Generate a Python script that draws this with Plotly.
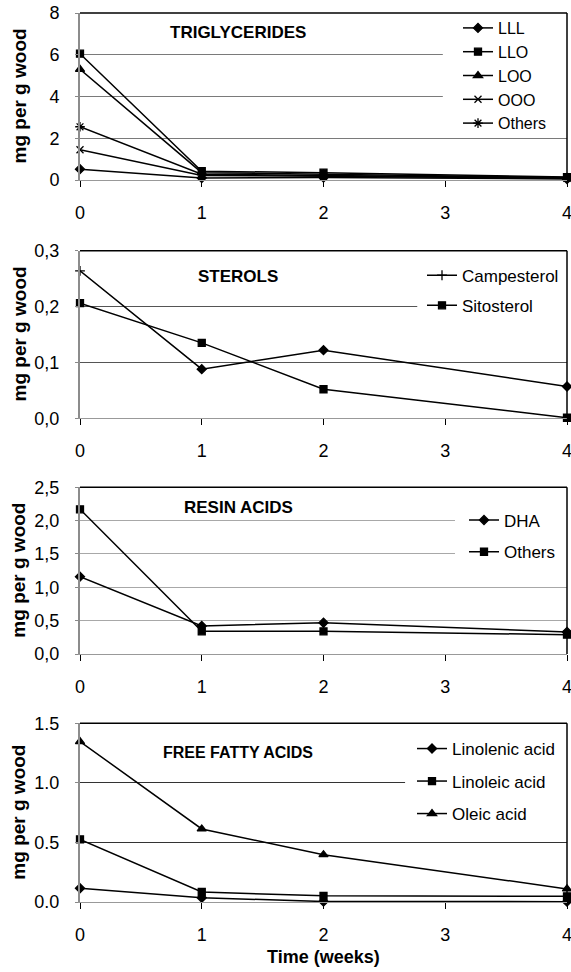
import plotly.graph_objects as go

# ---------------- data ----------------
weeks = [0, 1, 2, 4]
x_ticks = [0, 1, 2, 3, 4]

# Triglycerides (mg per g wood)
tg_names = ["LLL", "LLO", "LOO", "OOO", "Others"]
tg_LLL = [0.52, 0.10, 0.12, 0.05]
tg_LLO = [6.05, 0.42, 0.35, 0.14]
tg_LOO = [5.30, 0.35, 0.28, 0.12]
tg_OOO = [1.45, 0.22, 0.18, 0.08]
tg_Others = [2.55, 0.28, 0.22, 0.10]

# Sterols
st_names = ["Campesterol", "Sitosterol"]
st_campesterol = [0.264, 0.088, 0.122, 0.057]
st_sitosterol = [0.206, 0.135, 0.052, 0.001]

# Resin acids
ra_names = ["DHA", "Others"]
ra_DHA = [1.16, 0.42, 0.47, 0.33]
ra_Others = [2.17, 0.34, 0.34, 0.29]

# Free fatty acids
ff_names = ["Linolenic acid", "Linoleic acid", "Oleic acid"]
ff_linolenic = [0.115, 0.036, 0.004, 0.003]
ff_linoleic = [0.526, 0.084, 0.052, 0.048]
ff_oleic = [1.347, 0.613, 0.397, 0.110]

panel_titles = ["TRIGLYCERIDES", "STEROLS", "RESIN ACIDS", "FREE FATTY ACIDS"]
y_title = "mg per g wood"
x_title = "Time (weeks)"

tg_ticks = [0, 2, 4, 6, 8]
tg_ticktext = ["0", "2", "4", "6", "8"]
st_ticks = [0, 0.1, 0.2, 0.3]
st_ticktext = ["0,0", "0,1", "0,2", "0,3"]
ra_ticks = [0, 0.5, 1.0, 1.5, 2.0, 2.5]
ra_ticktext = ["0,0", "0,5", "1,0", "1,5", "2,0", "2,5"]
ff_ticks = [0, 0.5, 1.0, 1.5]
ff_ticktext = ["0.0", "0.5", "1.0", "1.5"]

# ---------------- figure ----------------
FONT = "Arial, Liberation Sans, sans-serif"
fig = go.Figure()

def add(name, y, panel, symbol, size, legend, group):
    fig.add_trace(go.Scatter(
        x=weeks, y=y, name=name, mode="lines+markers",
        xaxis="x" if panel == 1 else f"x{panel}",
        yaxis="y" if panel == 1 else f"y{panel}",
        line=dict(color="black", width=1.5),
        marker=dict(symbol=symbol, size=size, color="black",
                    line=dict(color="black", width=1.3)),
        legend=legend, legendgroup=group, cliponaxis=False,
    ))

tg_series = [tg_LLL, tg_LLO, tg_LOO, tg_OOO, tg_Others]
tg_symbols = ["diamond", "square", "triangle-up", "x-thin", "asterisk"]
tg_sizes = [7, 7, 8, 7, 8]
for n, s, sym, sz in zip(tg_names, tg_series, tg_symbols, tg_sizes):
    add(n, s, 1, sym, sz, "legend", None)

add(st_names[0], st_campesterol, 2, ["cross-thin", "diamond", "diamond", "diamond"], 7, "legend2", "s1")
add(st_names[1], st_sitosterol, 2, "square", 7, "legend2", "s2")

add(ra_names[0], ra_DHA, 3, "diamond", 7, "legend3", "r1")
add(ra_names[1], ra_Others, 3, "square", 7, "legend3", "r2")

add(ff_names[0], ff_linolenic, 4, "diamond", 7, "legend4", "f1")
add(ff_names[1], ff_linoleic, 4, "square", 7, "legend4", "f2")
add(ff_names[2], ff_oleic, 4, "triangle-up", 8, "legend4", "f3")

# positions in page pixels (the page body margin is removed below)
W, HT = 571, 972
L, R_EDGE = 80, 567          # plot area left/right
T, B = 13, 902               # plot area top/bottom
PW = R_EDGE - L
H = B - T

def px(p):
    return (p - L) / PW

def py(p):
    return (B - p) / H

domains = [
    [py(180), py(13)],
    [py(418.3), py(250.7)],
    [py(654), py(487.3)],
    [py(902), py(723.3)],
]
yranges = [[0, 8], [0, 0.3], [0, 2.5], [0, 1.5]]
yticks = [(tg_ticks, tg_ticktext), (st_ticks, st_ticktext),
          (ra_ticks, ra_ticktext), (ff_ticks, ff_ticktext)]
gridcolors = ["#7a7a7a", "#555555", "#a8a8a8", "#333333"]

layout = dict(
    width=W, height=HT,
    margin=dict(l=L, r=W - R_EDGE, t=T, b=HT - B, autoexpand=False),
    paper_bgcolor="white", plot_bgcolor="white",
    font=dict(family=FONT, color="black"),
    showlegend=True,
)

for i in range(4):
    k = "" if i == 0 else str(i + 1)
    layout[f"xaxis{k}"] = dict(
        domain=[0, 1], anchor=f"y{k}", range=[0, 4],
        tickmode="array", tickvals=x_ticks, ticktext=[str(t) for t in x_ticks],
        ticks="outside", ticklen=6, tickcolor="black", tickwidth=1,
        ticklabelstandoff=10, ticklabeloverflow="allow",
        tickfont=dict(size=18, family=FONT, color="black"),
        showgrid=False, zeroline=False,
        showline=True, linecolor="#999999", linewidth=1,
    )
    tv, tt = yticks[i]
    layout[f"yaxis{k}"] = dict(
        domain=domains[i], anchor=f"x{k}", range=yranges[i],
        tickmode="array", tickvals=tv, ticktext=tt,
        ticks="outside", ticklen=3, tickcolor="#888888",
        ticklabelstandoff=12, ticklabeloverflow="allow",
        tickfont=dict(size=18, family=FONT, color="black"),
        showgrid=True, gridcolor=gridcolors[i], gridwidth=1,
        zeroline=False,
        showline=True, linecolor="#8c8c8c", linewidth=2,
    )

fig.update_layout(**layout)

# legends (left = line-sample start - 5, top = first item centre - 18)
fig.update_layout(
    legend=dict(x=px(463 - 5), y=py(29 - 18), xanchor="left", yanchor="top",
                bgcolor="rgba(0,0,0,0)", font=dict(size=16, family=FONT)),
    legend2=dict(x=px(427 - 5), y=py(275.7 - 18), xanchor="left", yanchor="top",
                 bgcolor="rgba(0,0,0,0)", font=dict(size=17, family=FONT),
                 tracegroupgap=5),
    legend3=dict(x=px(469 - 5), y=py(520 - 17.5), xanchor="left", yanchor="top",
                 bgcolor="rgba(0,0,0,0)", font=dict(size=17, family=FONT),
                 tracegroupgap=6.6),
    legend4=dict(x=px(417 - 5), y=py(749 - 18), xanchor="left", yanchor="top",
                 bgcolor="rgba(0,0,0,0)", font=dict(size=17, family=FONT),
                 tracegroupgap=7.4),
)

shapes = []
# white areas behind legends that hide the gridlines
legend_boxes = [(2.98, 2.1, 7.97), (2.77, 0.15, 0.296), (3.08, 1.2, 2.47), (2.67, 0.6, 1.47)]
for i, (x0, y0, y1) in enumerate(legend_boxes):
    k = "" if i == 0 else str(i + 1)
    shapes.append(dict(type="rect", xref=f"x{k}", yref=f"y{k}", x0=x0, x1=4, y0=y0, y1=y1,
                       fillcolor="white", line=dict(width=0), layer="between"))
# top and right frame
for i in range(4):
    k = "" if i == 0 else str(i + 1)
    shapes.append(dict(type="line", xref=f"x{k} domain", yref=f"y{k} domain",
                       x0=0, x1=1, y0=1, y1=1, line=dict(color="black", width=1.5)))
    shapes.append(dict(type="line", xref=f"x{k} domain", yref=f"y{k} domain",
                       x0=1, x1=1, y0=0, y1=1, line=dict(color="black", width=1.5)))
fig.update_layout(shapes=shapes)

annotations = []
title_y = [32, 276, 507.7, 752.7]
title_sizes = [17, 17, 17, 16]
for t, yy, sz in zip(panel_titles, title_y, title_sizes):
    annotations.append(dict(text=f"<b>{t}</b>", xref="paper", yref="paper",
                            x=px(238), y=py(yy), xanchor="center", yanchor="middle",
                            showarrow=False, font=dict(size=sz, family=FONT, color="black")))
for i in range(4):
    k = "" if i == 0 else str(i + 1)
    annotations.append(dict(text=f"<b>{y_title}</b>", xref="paper", yref=f"y{k} domain",
                            x=px(19), y=0.5, xanchor="center", yanchor="middle",
                            textangle=-90, showarrow=False,
                            font=dict(size=19, family=FONT, color="black")))
annotations.append(dict(text=f"<b>{x_title}</b>", xref="paper", yref="paper",
                        x=px(323), y=py(957), xanchor="center", yanchor="middle",
                        showarrow=False, font=dict(size=18, family=FONT, color="black")))
fig.update_layout(annotations=annotations)

fig.write_html(
    "out.html",
    config={"displayModeBar": False},
    post_script="document.body.style.margin='0';document.body.style.overflow='hidden';",
)
